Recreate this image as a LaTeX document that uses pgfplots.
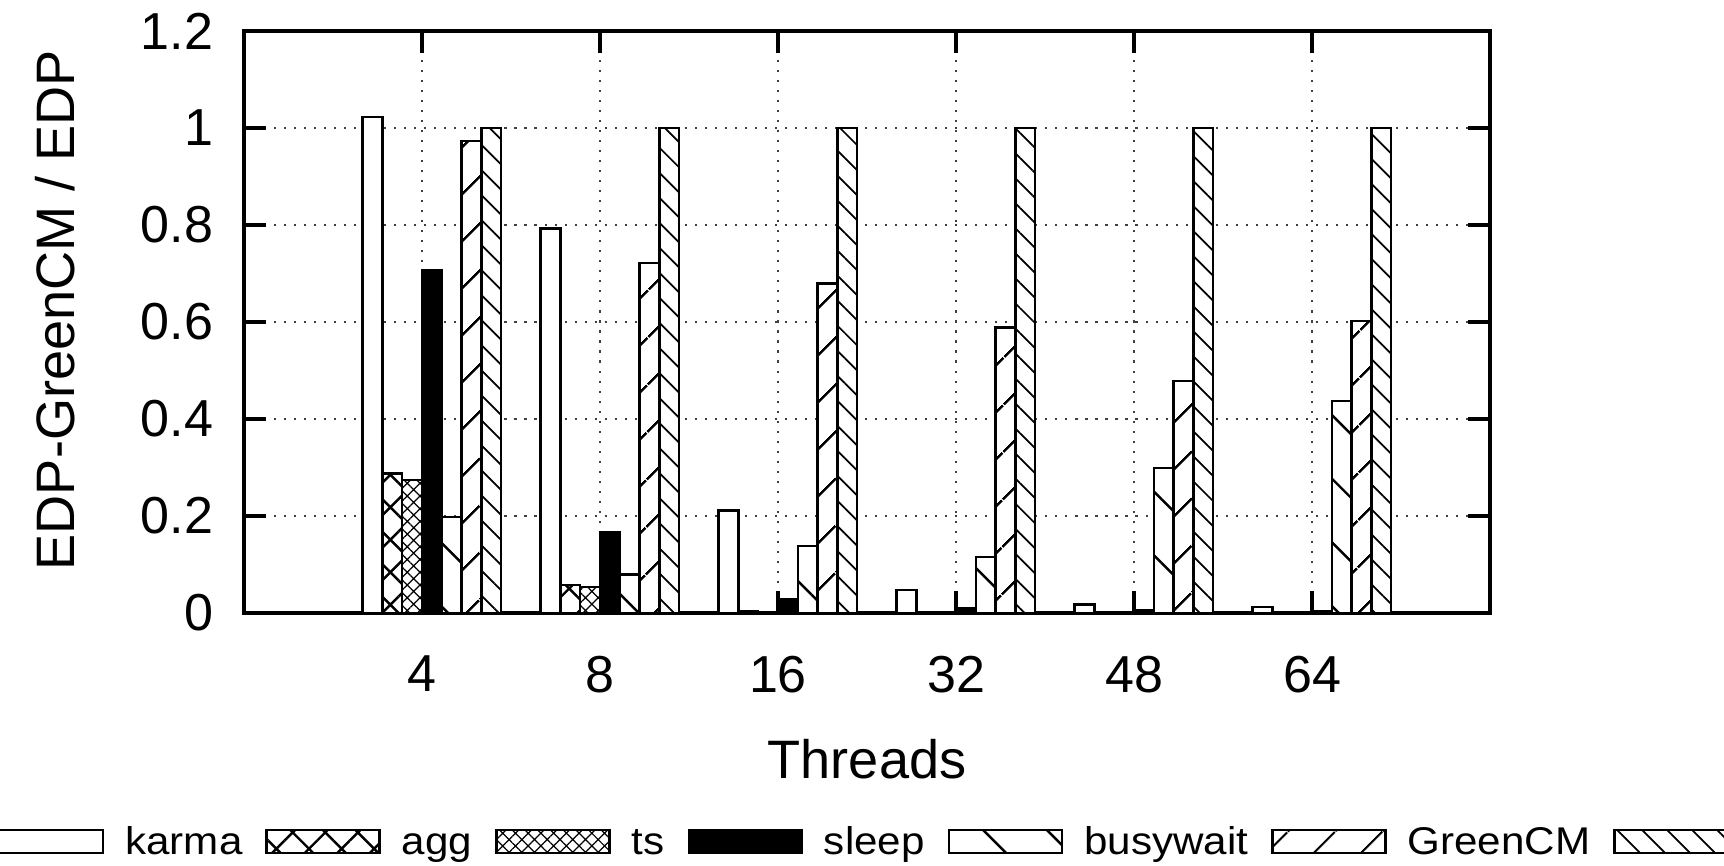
\documentclass[border=0pt]{standalone}
\usepackage{fontspec}
\setmainfont{Liberation Sans}
\newfontfamily\legfont[FakeStretch=1.09]{Liberation Sans}
\usepackage{pgfplots}
\pgfplotsset{compat=1.18}
\usetikzlibrary{patterns.meta}

\pgfplotsset{
  barleg/.style={legend image code/.code={\draw[##1] (0cm,-0.12cm) rectangle (1.13cm,0.11cm);}},
  bbar/.style={draw=black, line width=0.7pt, barleg},
}

\begin{document}
\begin{tikzpicture}
\path[use as bounding box] (0,0) rectangle (17.24,8.65);
\begin{axis}[
  at={(2.44cm,2.52cm)}, anchor=south west,
  scale only axis, width=12.46cm, height=5.82cm,
  xmin=-1, xmax=6, ymin=0, ymax=1.2,
  ybar, bar width=0.1978cm,
  xtick={0,1,2,3,4,5}, xticklabels={4,8,16,32,48,64},
  ytick={0,0.2,0.4,0.6,0.8,1,1.2},
  yticklabels={0,0.2,0.4,0.6,0.8,1,1.2},
  /pgf/number format/assume math mode=true,
  ticklabel style={font=\fontsize{14.8}{17}\selectfont},
  xticklabel style={anchor=north, inner sep=0pt, yshift=-0.42cm},
  yticklabel style={anchor=east, inner sep=0pt, xshift=-0.3cm},
  tick align=inside, major tick length=0.22cm,
  tick style={line width=0.9pt, black},
  axis line style={line width=0.9pt},
  grid=major,
  major grid style={dash pattern=on 0.6pt off 2.25pt, line width=0.6pt, black!75},
  xlabel={Threads},
  ylabel={EDP-GreenCM / EDP},
  label style={font=\fontsize{15.4}{18}\selectfont},
  xlabel style={at={(axis description cs:0.5,-0.2509)}, anchor=center, inner sep=0pt},
  ylabel style={at={(axis description cs:-0.1517,0.5206)}, anchor=center, inner sep=0pt, rotate=0},
  legend columns=7,
  legend cell align=left,
  legend style={at={(axis description cs:-0.2047,-0.3918)}, anchor=west,
    draw=none, inner sep=0pt, outer sep=0pt,
    font=\legfont\fontsize{11}{13}\selectfont,
    nodes={inner sep=0pt},
    /tikz/every odd column/.append style={column sep=0.21cm},
    /tikz/every even column/.append style={column sep=0.23cm}},
]
\addplot[bbar, fill=white, bar shift=-0.4944cm] coordinates {(0,1.023) (1,0.793) (2,0.211) (3,0.047) (4,0.018) (5,0.012)};
\addlegendentry{\strut karma}
\addplot[bbar, preaction={fill=white}, pattern={Hatch[angle=45,distance=0.23cm,line width=0.7pt]}, bar shift=-0.2967cm] coordinates {(0,0.288) (1,0.058) (2,0.003) (3,0.002) (4,0.001) (5,0.001)};
\addlegendentry{\strut agg}
\addplot[bbar, preaction={fill=white}, pattern={Hatch[angle=45,distance=0.09cm,line width=0.35pt]}, bar shift=-0.0989cm] coordinates {(0,0.274) (1,0.054) (2,0.002) (3,0.001) (4,0.001) (5,0.001)};
\addlegendentry{\strut ts}
\addplot[bbar, fill=black, bar shift=0.0989cm] coordinates {(0,0.706) (1,0.167) (2,0.028) (3,0.010) (4,0.005) (5,0.004)};
\addlegendentry{\strut sleep}
\addplot[bbar, preaction={fill=white}, pattern={Lines[angle=-45,distance=0.45cm,line width=0.7pt]}, bar shift=0.2967cm] coordinates {(0,0.198) (1,0.079) (2,0.138) (3,0.115) (4,0.299) (5,0.437)};
\addlegendentry{\strut busywait}
\addplot[bbar, preaction={fill=white}, pattern={Lines[angle=45,distance=0.34cm,line width=0.7pt]}, bar shift=0.4944cm] coordinates {(0,0.973) (1,0.722) (2,0.679) (3,0.589) (4,0.478) (5,0.602)};
\addlegendentry{\strut GreenCM}
\addplot[bbar, preaction={fill=white}, pattern={Lines[angle=-45,distance=0.177cm,line width=0.5pt]}, bar shift=0.6922cm] coordinates {(0,1) (1,1) (2,1) (3,1) (4,1) (5,1)};
\addlegendentry{\strut}
\end{axis}
\end{tikzpicture}
\end{document}
